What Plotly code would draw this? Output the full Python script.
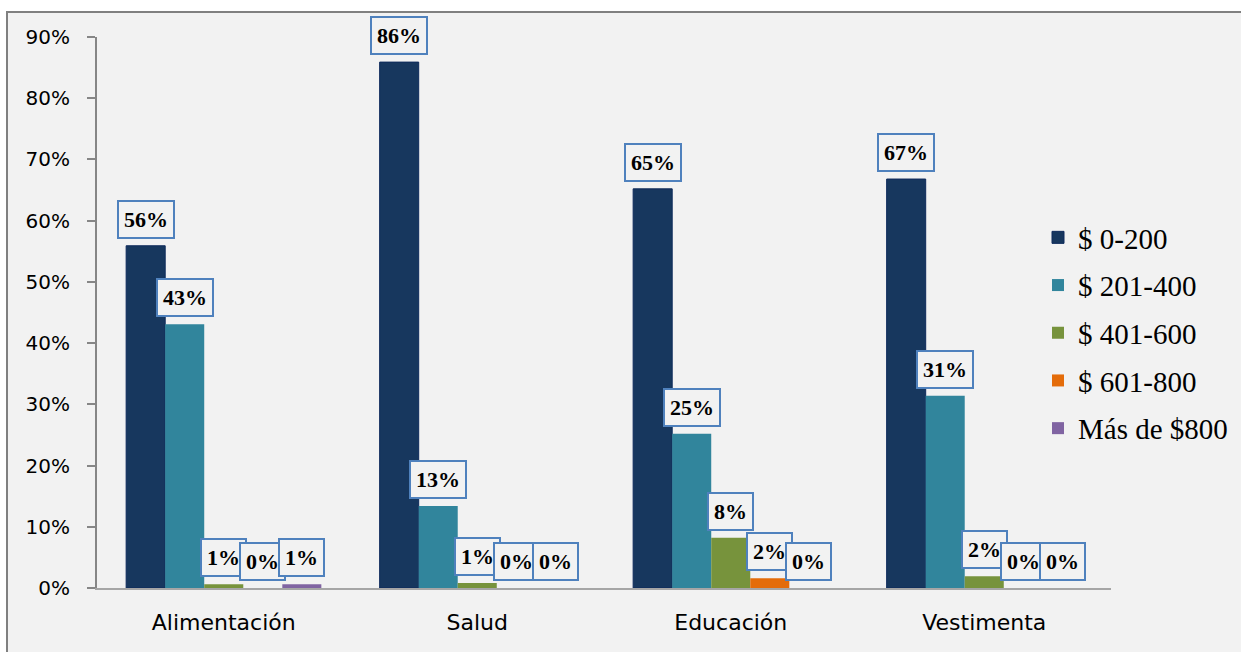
import plotly.graph_objects as go

categories = ["Alimentación", "Salud", "Educación", "Vestimenta"]
series_names = ["$ 0-200", "$ 201-400", "$ 401-600", "$ 601-800", "Más de $800"]
values_0_200 = [0.559, 0.859, 0.652, 0.668]
values_201_400 = [0.431, 0.134, 0.252, 0.314]
values_401_600 = [0.006, 0.008, 0.082, 0.019]
values_601_800 = [0.0, 0.0, 0.016, 0.0]
values_mas_800 = [0.006, 0.0, 0.0, 0.0]
label_texts = [
    ["56%", "86%", "65%", "67%"],
    ["43%", "13%", "25%", "31%"],
    ["1%", "1%", "8%", "2%"],
    ["0%", "0%", "2%", "0%"],
    ["1%", "0%", "0%", "0%"],
]
y_ticks = [0, 0.1, 0.2, 0.3, 0.4, 0.5, 0.6, 0.7, 0.8, 0.9]
y_tick_labels = ["0%", "10%", "20%", "30%", "40%", "50%", "60%", "70%", "80%", "90%"]

series_values = [values_0_200, values_201_400, values_401_600, values_601_800, values_mas_800]
colors = ["#17375e", "#31859c", "#77933c", "#e46c0a", "#8064a2"]
line_colors = ["#0e2a5c", "#31859c", "#77933c", "#e46c0a", "#8064a2"]
line_widths = [1, 0, 0, 0, 0]

W, H = 1241, 652
ML, MR, MT, MB = 97, 130, 37, 64
plot_w = W - ML - MR
plot_h = H - MT - MB
bargap = 0.23
bar_px = plot_w / len(categories) * (1 - bargap) / len(series_names)

fig = go.Figure()
for i, (name, vals) in enumerate(zip(series_names, series_values)):
    fig.add_trace(go.Bar(
        x=categories, y=vals, name=name,
        marker=dict(color=colors[i], line=dict(color=line_colors[i], width=line_widths[i])),
        legendgroup=f"g{i}",
    ))

annotations = []
for i, vals in enumerate(series_values):
    for j, v in enumerate(vals):
        annotations.append(dict(
            x=categories[j], y=v, xref="x", yref="y",
            text=f"<b>{label_texts[i][j]}</b>",
            showarrow=False, yanchor="bottom",
            xshift=(i - 2) * bar_px, yshift=7,
            font=dict(family="Liberation Serif", size=22, color="black"),
            bordercolor="#4f81bd", borderwidth=2, borderpad=5,
            bgcolor="#f2f2f2",
        ))

# outer chart frame
x0 = (7 - ML) / plot_w
x1 = (W + 10 - ML) / plot_w
y1 = (H - MB - 12) / plot_h
y0 = (H - MB - (H + 10)) / plot_h

fig.update_layout(
    width=W, height=H,
    margin=dict(l=ML, r=MR, t=MT, b=MB, autoexpand=False),
    paper_bgcolor="white",
    plot_bgcolor="rgba(0,0,0,0)",
    barmode="group", bargap=bargap, bargroupgap=0,
    showlegend=True,
    legend=dict(
        xref="container", yref="container",
        x=1038 / W, y=1 - 333 / H, xanchor="left", yanchor="middle",
        font=dict(family="Liberation Serif", size=29, color="black"),
        tracegroupgap=7, bgcolor="rgba(0,0,0,0)", itemwidth=30,
    ),
    font=dict(family="DejaVu Sans", size=20, color="black"),
    annotations=annotations,
    shapes=[dict(
        type="rect", xref="paper", yref="paper",
        x0=x0, x1=x1, y0=y0, y1=y1,
        fillcolor="#f2f2f2", line=dict(color="#808080", width=2),
        layer="below",
    )],
    xaxis=dict(
        showline=True, linecolor="#a6a6a6", linewidth=2,
        ticks="", showgrid=False, zeroline=False,
        ticklabelstandoff=14,
        tickfont=dict(family="DejaVu Sans", size=22, color="black"),
    ),
    yaxis=dict(
        range=[0, 0.9], tickvals=y_ticks, ticktext=y_tick_labels,
        showline=True, linecolor="#868686", linewidth=2,
        ticks="outside", ticklen=8, tickcolor="#868686", tickwidth=2,
        showgrid=False, zeroline=False,
        ticklabelstandoff=13,
        tickfont=dict(family="DejaVu Sans", size=20, color="black"),
    ),
)

fig.write_html("out.html", config={"displayModeBar": False},
               post_script="document.body.style.margin='0';")
